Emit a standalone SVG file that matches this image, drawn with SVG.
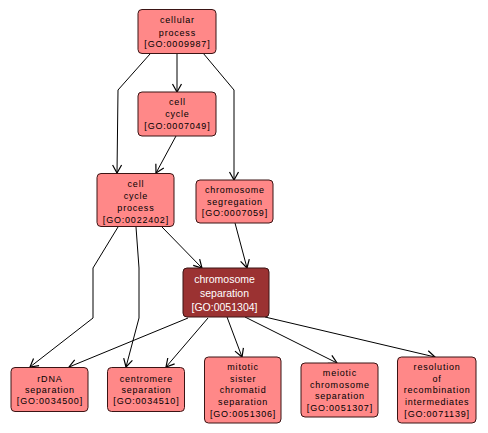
<svg xmlns="http://www.w3.org/2000/svg" width="488" height="433" viewBox="0 0 488 433">
<style>
.n rect{fill:#ff8888;stroke:#3a1414;stroke-width:1}
.n text{font-family:"Liberation Sans",Arial,sans-serif;font-size:9px;letter-spacing:0.8px;fill:#000;text-anchor:middle}
.d rect{fill:#9b3232;stroke:#3a1414;stroke-width:1}
.d text{font-family:"Liberation Sans",Arial,sans-serif;font-size:10.5px;fill:#fff;text-anchor:middle}
.e path{fill:none;stroke:#000;stroke-width:1;marker-end:url(#a)}
</style>
<defs>
<marker id="a" markerUnits="userSpaceOnUse" markerWidth="12" markerHeight="12" viewBox="-10 -6 12 12" refX="0" refY="0" orient="auto">
<path d="M-8,-4.5 L0,0 L-8,4.5" fill="none" stroke="#000" stroke-width="1.2"/>
</marker>
</defs>
<rect width="488" height="433" fill="#fff"/>
<g class="e" id="edges">
<path d="M177,53 L177,92"/>
<path d="M150,54 L118,90 L117,173"/>
<path d="M203,53 L234,90 L234,180"/>
<path d="M176,136 L156,173"/>
<path d="M162,227 L202,268"/>
<path d="M235,223 L247,268"/>
<path d="M118,227 L93,268 L93,318 L30,367"/>
<path d="M136,227 L139,268 L139,318 L126,367"/>
<path d="M188,318 L69,367"/>
<path d="M208,318 L166,367"/>
<path d="M227,317 L242,357"/>
<path d="M245,317 L337,363"/>
<path d="M265,317 L435,357"/>
</g>
<g class="n" id="GO0009987">
<rect x="138" y="9.5" width="78" height="44" rx="4"/>
<text x="177.4" y="23.3">cellular</text>
<text x="177.4" y="35.5">process</text>
<text x="177.4" y="46.7">[GO:0009987]</text>
</g>
<g class="n" id="GO0007049">
<rect x="138" y="92" width="78" height="44" rx="4"/>
<text x="177.4" y="105">cell</text>
<text x="177.4" y="117.3">cycle</text>
<text x="177.4" y="129.3">[GO:0007049]</text>
</g>
<g class="n" id="GO0022402">
<rect x="97" y="173.5" width="77" height="53" rx="4"/>
<text x="135.9" y="186.6">cell</text>
<text x="135.9" y="199.3">cycle</text>
<text x="135.9" y="211">process</text>
<text x="135.9" y="222.6">[GO:0022402]</text>
</g>
<g class="n" id="GO0007059">
<rect x="196" y="180" width="77" height="43" rx="4"/>
<text x="234.9" y="193.3">chromosome</text>
<text x="234.9" y="205">segregation</text>
<text x="234.9" y="216">[GO:0007059]</text>
</g>
<g class="d" id="GO0051304">
<rect x="183" y="268" width="86" height="49" rx="4"/>
<text x="224.5" y="283">chromosome</text>
<text x="224.5" y="297">separation</text>
<text x="224.5" y="310.5">[GO:0051304]</text>
</g>
<g class="n" id="GO0034500">
<rect x="11" y="367.5" width="77" height="44" rx="4"/>
<text x="49.9" y="381.6">rDNA</text>
<text x="49.9" y="392.6">separation</text>
<text x="49.9" y="404.3">[GO:0034500]</text>
</g>
<g class="n" id="GO0034510">
<rect x="107.5" y="367.5" width="77" height="44" rx="4"/>
<text x="146.4" y="381.6">centromere</text>
<text x="146.4" y="392.6">separation</text>
<text x="146.4" y="404.3">[GO:0034510]</text>
</g>
<g class="n" id="GO0051306">
<rect x="204.5" y="357" width="76.5" height="66" rx="4"/>
<text x="243.1" y="370">mitotic</text>
<text x="243.1" y="382.3">sister</text>
<text x="243.1" y="393.3">chromatid</text>
<text x="243.1" y="404.6">separation</text>
<text x="243.1" y="416.6">[GO:0051306]</text>
</g>
<g class="n" id="GO0051307">
<rect x="301" y="363" width="77" height="54" rx="4"/>
<text x="339.9" y="376">meiotic</text>
<text x="339.9" y="387.6">chromosome</text>
<text x="339.9" y="399.3">separation</text>
<text x="339.9" y="411">[GO:0051307]</text>
</g>
<g class="n" id="GO0071139">
<rect x="397.5" y="357" width="78.5" height="66" rx="4"/>
<text x="437.1" y="370">resolution</text>
<text x="437.1" y="382.3">of</text>
<text x="437.1" y="393.3">recombination</text>
<text x="437.1" y="404.6">intermediates</text>
<text x="437.1" y="416.6">[GO:0071139]</text>
</g>
</svg>
